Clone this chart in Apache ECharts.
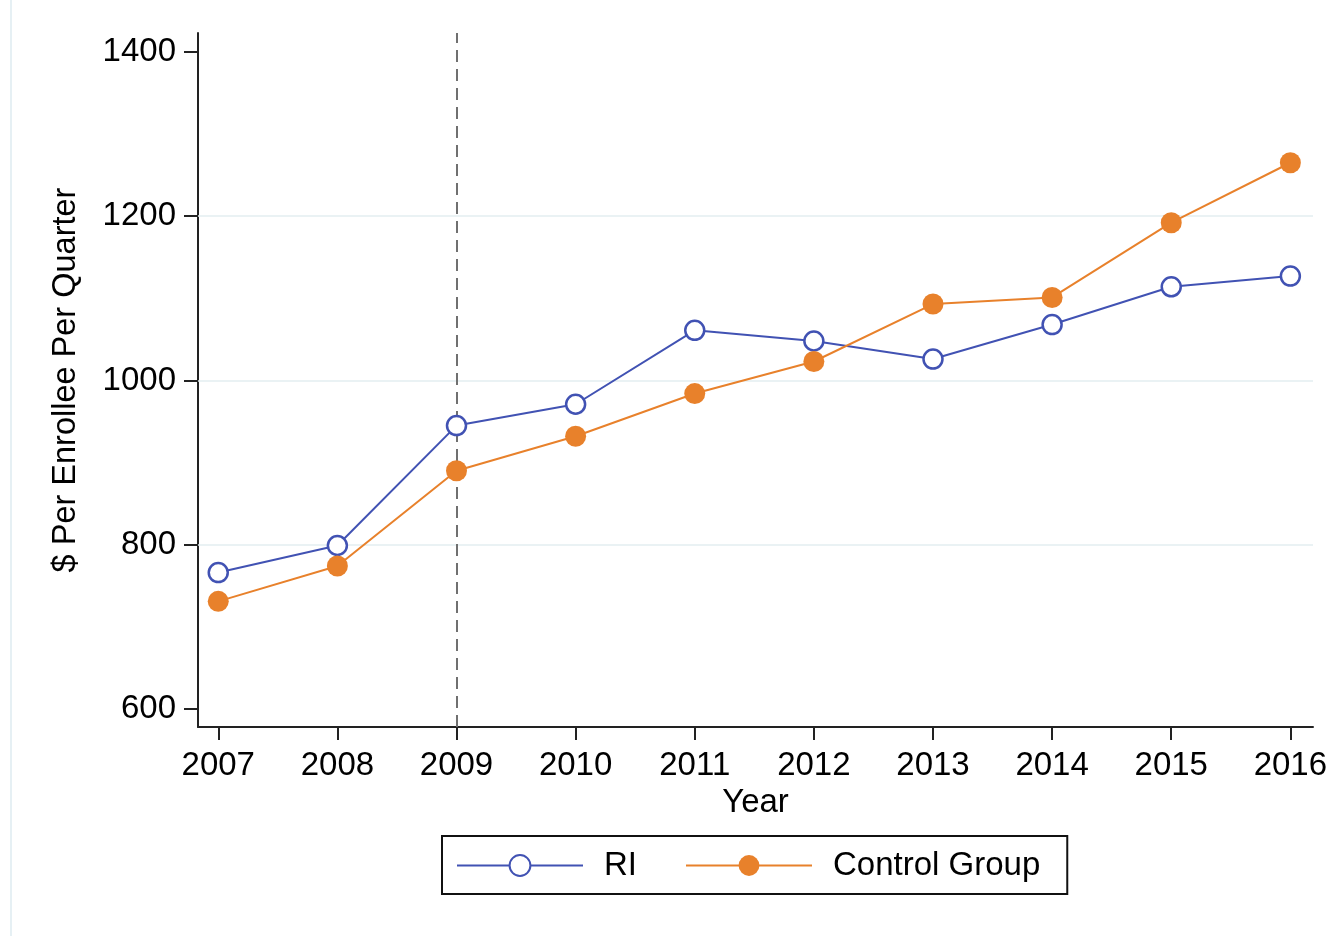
<!DOCTYPE html>
<html>
<head>
<meta charset="utf-8">
<script src="https://cdn.jsdelivr.net/npm/echarts@6/dist/echarts.min.js"></script>
<style>
  html, body { margin: 0; padding: 0; background: #fff; }
  #chart { width: 1331px; height: 936px; }
</style>
</head>
<body>
<div id="chart"></div>
<script>
// data
const years = [2007, 2008, 2009, 2010, 2011, 2012, 2013, 2014, 2015, 2016];
const riValues = [766, 799, 945, 971, 1061, 1048, 1026, 1068, 1114, 1127];
const controlValues = [731, 774, 890, 932, 984, 1023, 1093, 1101, 1192, 1265];
const yTicks = [600, 800, 1000, 1200, 1400];
const gridValues = [800, 1000, 1200];
const policyYear = 2009;

const FONT = '"Liberation Sans", Arial, Helvetica, sans-serif';
const BLUE = '#4152b3';
const ORANGE = '#e8812b';

const chart = echarts.init(document.getElementById('chart'), null, { renderer: 'canvas' });

const option = {
  backgroundColor: '#fff',
  animation: false,
  textStyle: { fontFamily: FONT },
  grid: { left: 198, top: 33, right: 18, bottom: 209, containLabel: false },
  xAxis: {
    type: 'value',
    min: 2006.83,
    max: 2016.19,
    name: 'Year',
    nameLocation: 'middle',
    nameGap: 56,
    nameTextStyle: { color: '#000', fontSize: 33, fontFamily: FONT },
    axisLine: { show: true, lineStyle: { color: '#222', width: 2 } },
    axisTick: { show: true, length: 13, lineStyle: { color: '#222', width: 2 }, customValues: years },
    axisLabel: {
      color: '#000', fontSize: 33, margin: 22, fontFamily: FONT,
      customValues: years,
      formatter: v => String(v)
    },
    splitLine: { show: false }
  },
  yAxis: {
    type: 'value',
    min: 578,
    max: 1423,
    name: '$ Per Enrollee Per Quarter',
    nameLocation: 'middle',
    nameGap: 115,
    nameTextStyle: { color: '#000', fontSize: 32.5, fontFamily: FONT },
    axisLine: { show: true, lineStyle: { color: '#222', width: 2 } },
    axisTick: { show: true, length: 14, lineStyle: { color: '#222', width: 2 }, customValues: yTicks },
    axisLabel: {
      color: '#000', fontSize: 33, margin: 22, fontFamily: FONT,
      padding: [5, 0, 0, 0],
      customValues: yTicks,
      formatter: v => String(v)
    },
    splitLine: { show: false }
  },
  legend: {
    left: 442,
    top: 836,
    orient: 'horizontal',
    padding: [13, 27, 12, 14],
    borderColor: '#111',
    borderWidth: 2,
    itemWidth: 126,
    itemHeight: 26,
    itemGap: 48,
    textStyle: { color: '#000', fontSize: 33, fontFamily: FONT, padding: [0, 0, 0, 16] },
    data: ['RI', 'Control Group']
  },
  graphic: [{
    type: 'line',
    shape: { x1: 11, y1: 0, x2: 11, y2: 936 },
    style: { stroke: '#e6f0f4', lineWidth: 2 },
    silent: true
  }],
  series: [
    {
      name: 'RI',
      type: 'line',
      data: years.map((y, i) => [y, riValues[i]]),
      symbol: 'circle',
      symbolSize: 19,
      lineStyle: { color: BLUE, width: 2 },
      itemStyle: { color: '#fff', borderColor: BLUE, borderWidth: 2.5 },
      z: 3,
      markLine: {
        silent: true,
        symbol: 'none',
        label: { show: false },
        lineStyle: { color: '#e3eef1', width: 1.5, type: 'solid' },
        data: gridValues.map(v => ({ yAxis: v }))
          .concat([{ xAxis: policyYear, lineStyle: { color: '#707070', width: 2, type: [12, 7] } }]),
        z: 1
      }
    },
    {
      name: 'Control Group',
      type: 'line',
      data: years.map((y, i) => [y, controlValues[i]]),
      symbol: 'circle',
      symbolSize: 21,
      lineStyle: { color: ORANGE, width: 2 },
      itemStyle: { color: ORANGE, borderColor: ORANGE, borderWidth: 0 },
      z: 4
    }
  ]
};

chart.setOption(option);
</script>
</body>
</html>
